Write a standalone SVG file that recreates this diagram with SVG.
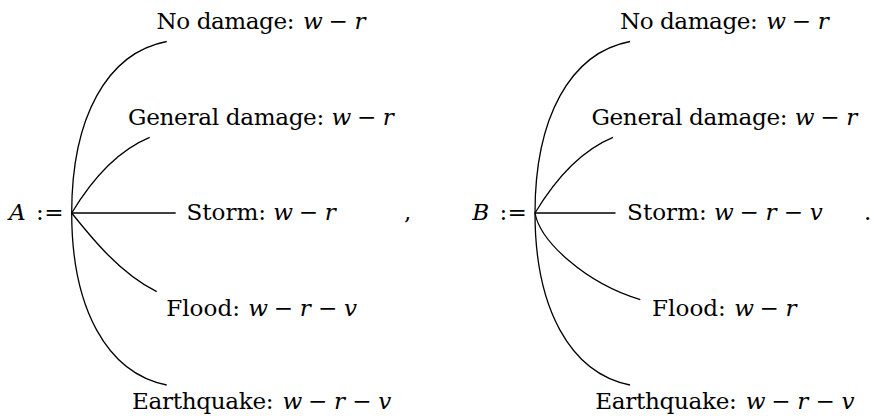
<svg xmlns="http://www.w3.org/2000/svg" width="874" height="416" viewBox="0 0 874 416">
<style>
text{font-family:'DejaVu Serif',serif;font-size:23.1px;fill:#000}
.m{font-style:italic;word-spacing:-4px}
.o{word-spacing:-4px}
.edge{fill:none;stroke:#000;stroke-width:1.3}
</style>
<rect width="874" height="416" fill="#fff"/>
<g id="connectors">
<path class="edge" d="M71.7,213 C71.7,118 106.7,53 166.7,41.5"/>
<path class="edge" d="M71.7,213 C86.7,188 111.7,153 149.7,137.3"/>
<path class="edge" d="M71.7,213 L175.7,213"/>
<path class="edge" d="M71.7,213 C91.7,238 119.7,273 156.7,291.7"/>
<path class="edge" d="M71.7,213 C71.7,308 106.7,373 166.7,385"/>
<path class="edge" d="M535,213 C535,118 570,53 630,41.5"/>
<path class="edge" d="M535,213 C550,188 575,153 613,137.3"/>
<path class="edge" d="M535,213 L615.5,213"/>
<path class="edge" d="M535,213 C540,241 585,283 640.3,299.7"/>
<path class="edge" d="M535,213 C535,308 570,373 630,385"/>
</g>
<g id="rootA"><text y="220"><tspan x="9" class="m">A </tspan><tspan x="36.1">:</tspan><tspan x="44.3">=</tspan></text></g>
<g id="a1"><text y="29"><tspan x="156.6" letter-spacing="-0.45">No damage: </tspan><tspan x="303.06" class="m">w </tspan><tspan x="328.5" class="o">− </tspan><tspan x="354.41" class="m">r</tspan></text></g>
<g id="a2"><text y="125"><tspan x="128.1" letter-spacing="-0.32">General damage: </tspan><tspan x="331.51" class="m">w </tspan><tspan x="356.9" class="o">− </tspan><tspan x="382.86" class="m">r</tspan></text></g>
<g id="a3"><text y="220"><tspan x="186.4">Storm: </tspan><tspan x="273.34" class="m">w </tspan><tspan x="298.7" class="o">− </tspan><tspan x="324.69" class="m">r</tspan></text></g>
<g id="a4"><text y="316"><tspan x="166.2">Flood: </tspan><tspan x="248.29" class="m">w </tspan><tspan x="273.7" class="o">− </tspan><tspan x="299.64" class="m">r </tspan><tspan x="318.0" class="o">− </tspan><tspan x="343.97" class="m">v</tspan></text></g>
<g id="a5"><text y="409"><tspan x="131.9" letter-spacing="-0.3">Earthquake: </tspan><tspan x="282.55" class="m">w </tspan><tspan x="307.9" class="o">− </tspan><tspan x="333.9" class="m">r </tspan><tspan x="352.3" class="o">− </tspan><tspan x="378.23" class="m">v</tspan></text></g>
<g id="comma"><text x="404" y="220">,</text></g>
<g id="rootB"><text y="220"><tspan x="472.2" class="m">B </tspan><tspan x="499.4">:</tspan><tspan x="507.6">=</tspan></text></g>
<g id="b1"><text y="29"><tspan x="619.9" letter-spacing="-0.45">No damage: </tspan><tspan x="766.36" class="m">w </tspan><tspan x="791.8" class="o">− </tspan><tspan x="817.71" class="m">r</tspan></text></g>
<g id="b2"><text y="125"><tspan x="591.4" letter-spacing="-0.32">General damage: </tspan><tspan x="794.81" class="m">w </tspan><tspan x="820.2" class="o">− </tspan><tspan x="846.16" class="m">r</tspan></text></g>
<g id="b3"><text y="220"><tspan x="627.1">Storm: </tspan><tspan x="714.04" class="m">w </tspan><tspan x="739.4" class="o">− </tspan><tspan x="765.39" class="m">r </tspan><tspan x="783.8" class="o">− </tspan><tspan x="809.72" class="m">v</tspan></text></g>
<g id="b4"><text y="316"><tspan x="652.1">Flood: </tspan><tspan x="734.19" class="m">w </tspan><tspan x="759.6" class="o">− </tspan><tspan x="785.54" class="m">r</tspan></text></g>
<g id="b5"><text y="409"><tspan x="595.2" letter-spacing="-0.3">Earthquake: </tspan><tspan x="745.85" class="m">w </tspan><tspan x="771.3" class="o">− </tspan><tspan x="797.2" class="m">r </tspan><tspan x="815.6" class="o">− </tspan><tspan x="841.53" class="m">v</tspan></text></g>
<g id="period"><text x="864" y="220">.</text></g>
</svg>
